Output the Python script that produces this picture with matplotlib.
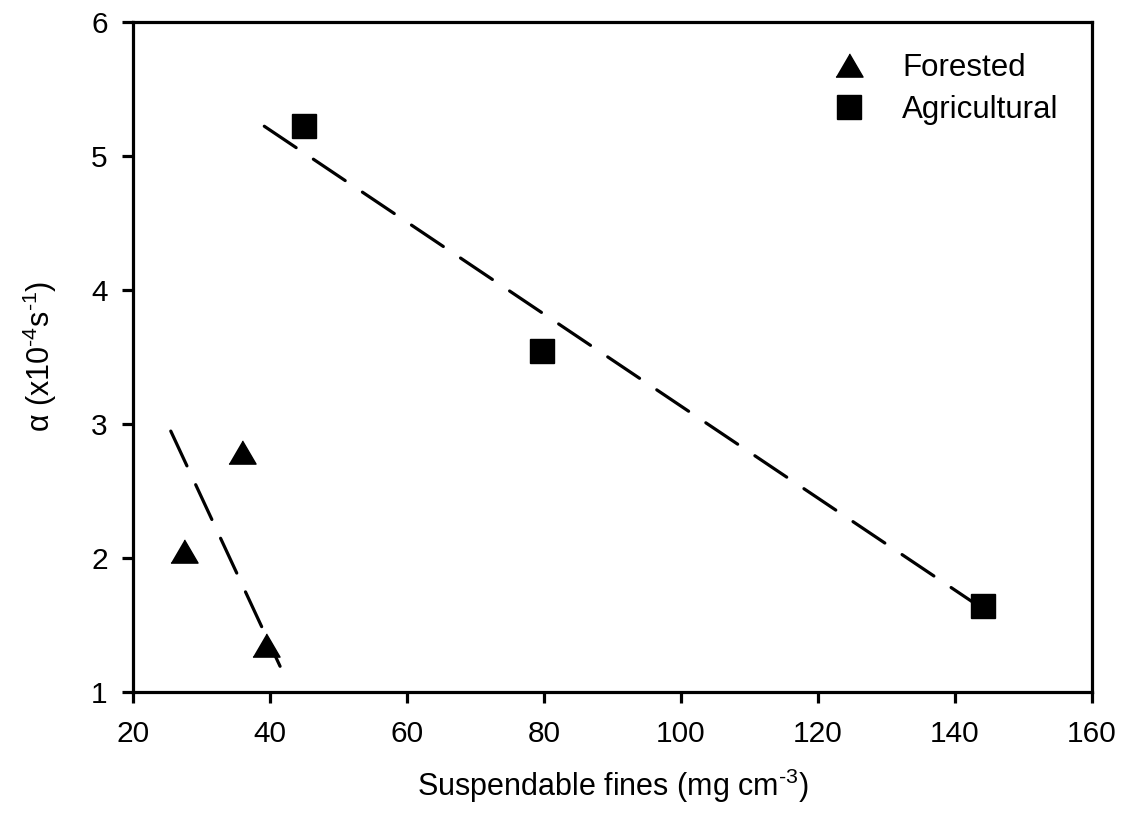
import numpy as np
import matplotlib
matplotlib.use("Agg")
import matplotlib.pyplot as plt

plt.rcParams['font.family'] = ['Liberation Sans', 'DejaVu Sans']
plt.rcParams['mathtext.fontset'] = 'custom'
plt.rcParams['mathtext.rm'] = 'Liberation Sans'
plt.rcParams['mathtext.it'] = 'Liberation Sans:italic'
plt.rcParams['mathtext.default'] = 'regular'

# datos
forested_x = [27.5, 36.0, 39.5]
forested_y = [2.05, 2.79, 1.35]
agric_x = [45.0, 79.8, 144.1]
agric_y = [5.22, 3.54, 1.64]

# lineas de tendencia (extremos)
forested_fit_x = [25.55, 41.5]
forested_fit_y = [2.945, 1.19]
agric_fit_x = [39.2, 146.5]
agric_fit_y = [5.22, 1.535]

xticks = [20, 40, 60, 80, 100, 120, 140, 160]
yticks = [1, 2, 3, 4, 5, 6]

fig = plt.figure(figsize=(11.26, 8.23), dpi=100)
ax = fig.add_axes([0.1179, 0.1595, 0.8519, 0.8141])

tri = [(-1, -0.857), (1, -0.857), (0, 0.857)]
lw = 2.3
dash = (0, (12, 6.5))

ax.plot(forested_fit_x, forested_fit_y, color='k', lw=lw, ls=dash,
        dash_capstyle='round')
ax.plot(agric_fit_x, agric_fit_y, color='k', lw=lw, ls=dash,
        dash_capstyle='round')

ax.plot(forested_x, forested_y, ls='none', marker=tri, ms=19.5, color='k',
        mew=1, label='Forested')
ax.plot(agric_x, agric_y, ls='none', marker='s', ms=17, color='k',
        mew=1, markeredgecolor='k', label='Agricultural')

ax.set_xlim(20, 160)
ax.set_ylim(1, 6)
ax.set_xticks(xticks)
ax.set_yticks(yticks)

for s in ax.spines.values():
    s.set_linewidth(lw)
ax.tick_params(direction='out', length=8, width=lw, labelsize=21.5)
ax.tick_params(axis='x', pad=12)
ax.tick_params(axis='y', pad=10)

ax.set_xlabel(r'Suspendable fines (mg cm$^{\text{-3}}$)', fontsize=22, labelpad=14)
ax.set_ylabel(r'$\alpha$ (x10$^{\text{-4}}$s$^{\text{-1}}$)', fontsize=22, labelpad=23)

leg = ax.legend(loc='upper left', bbox_to_anchor=(0.714, 0.972), frameon=False,
                fontsize=22.5, handlelength=1.2, handletextpad=1.1,
                labelspacing=0.38, borderaxespad=0, numpoints=1)

fig.savefig('out.png', dpi=100)
